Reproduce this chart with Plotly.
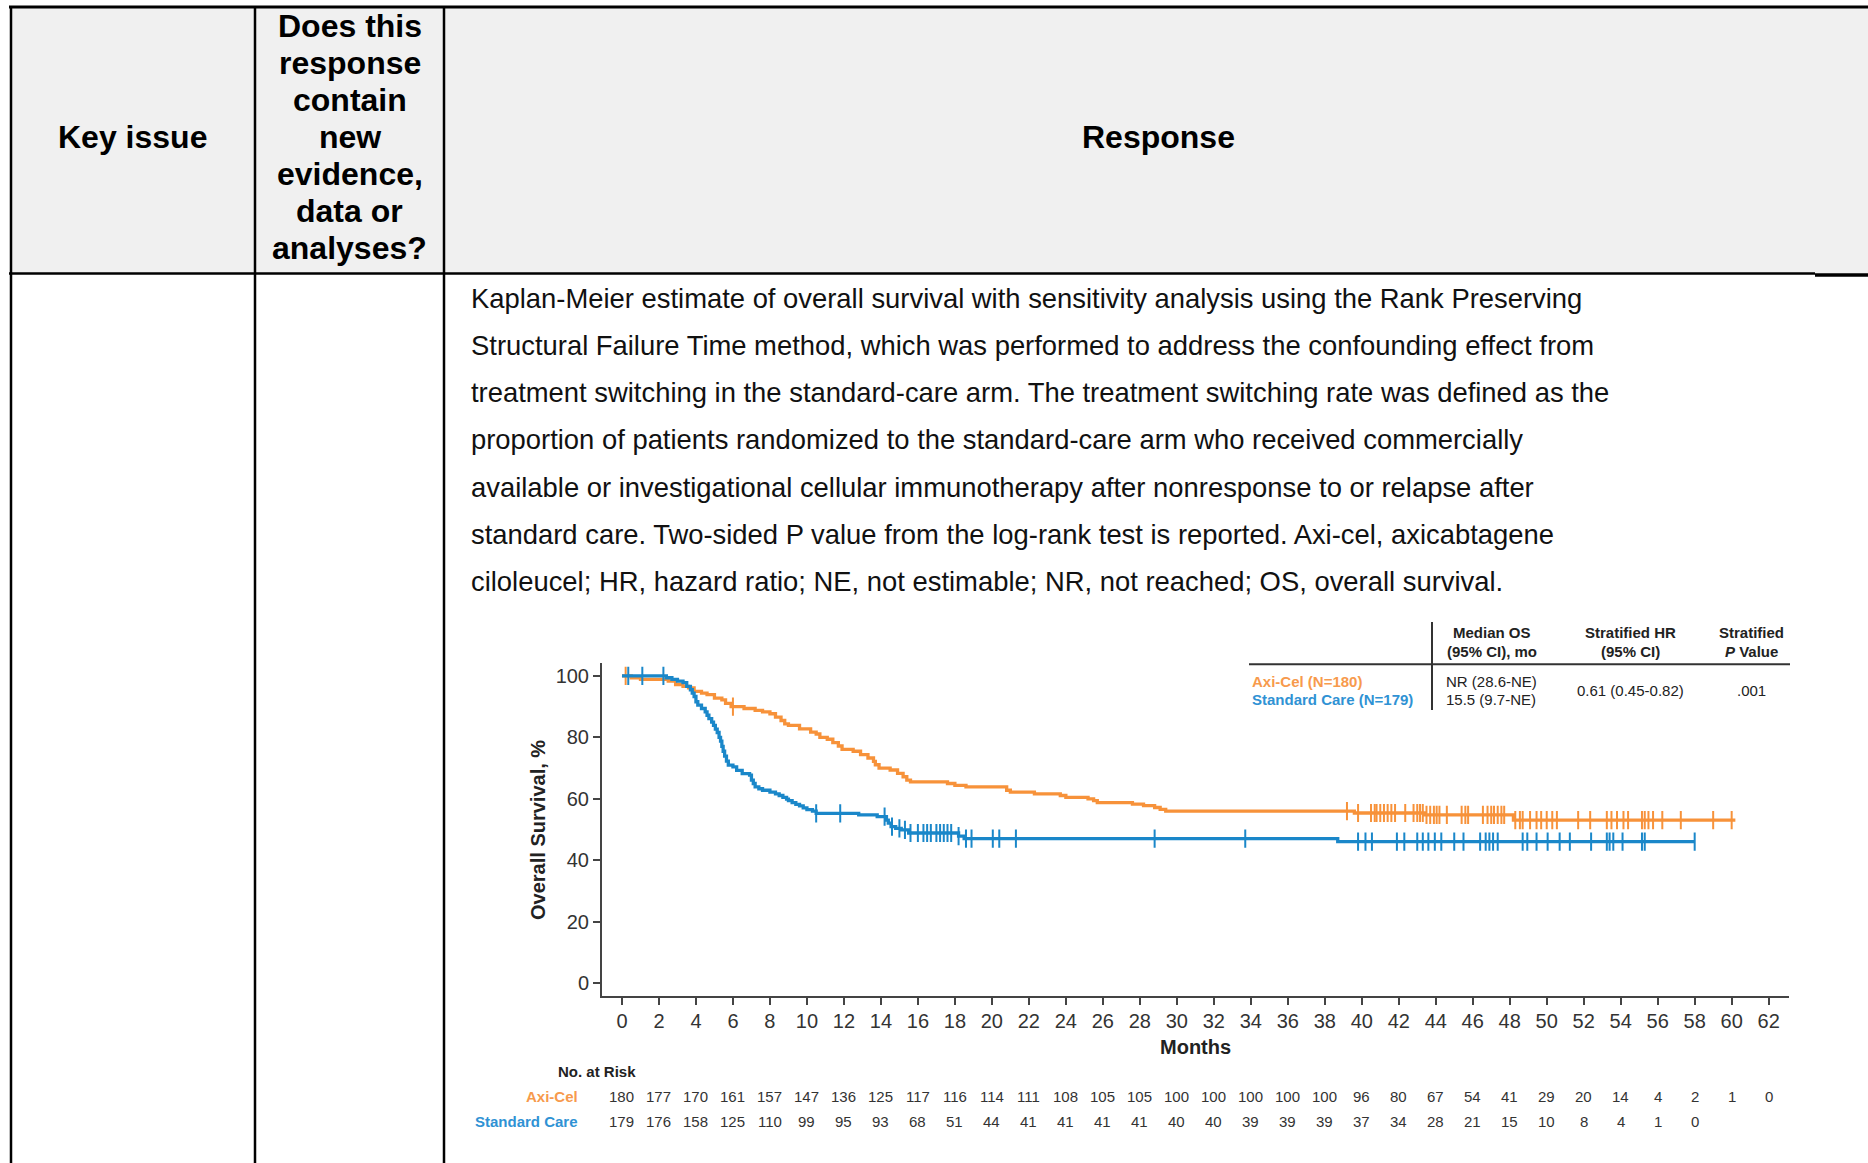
import plotly.graph_objects as go

W, H = 1868, 1163
FONT = "Liberation Sans, Arial, Helvetica, sans-serif"
ORANGE = "#F7923A"
BLUE = "#1A87C9"
ORANGE_TXT = "#F79A4C"
BLUE_TXT = "#2F92D4"

# ---------------- data ----------------
months_ticks = list(range(0, 63, 2))

axicel_t = [0, 0.5, 1.0, 2.5, 2.9, 3.3, 3.6, 3.9, 4.3, 4.6, 5.0, 5.4, 5.6, 5.9, 6.6, 7.2, 7.6, 8.0,
            8.3, 8.6, 8.8, 9.0, 9.6, 10.2, 10.5, 10.7, 11.1, 11.4, 11.7, 11.9, 12.5, 12.9, 13.3,
            13.6, 13.7, 13.9, 14.5, 14.9, 15.2, 15.4, 15.6, 17.6, 18.0, 18.6, 20.8, 21.0, 22.3,
            23.7, 24.0, 25.2, 25.5, 25.7, 27.6, 28.2, 28.8, 29.1, 29.4, 39.6, 43.4, 48.2]
axicel_s = [100, 99.4, 98.9, 98.3, 97.2, 96.6, 96.1, 95.0, 94.4, 93.9, 92.8, 92.2, 91.1, 90.0, 89.4,
            88.8, 88.3, 87.7, 86.6, 85.5, 84.4, 83.9, 82.8, 81.7, 81.1, 80.0, 79.4, 78.3, 77.2, 76.1,
            75.5, 74.4, 73.3, 72.2, 71.1, 70.0, 69.4, 68.3, 67.2, 66.1, 65.5, 65.0, 64.4, 63.9, 62.8,
            62.2, 61.6, 61.1, 60.5, 60.0, 59.4, 58.8, 58.3, 57.8, 57.2, 56.6, 56.0, 55.4, 54.8, 53.1]
axicel_end = 60.2
axicel_cens = [0.2, 6.0, 39.2, 39.8, 40.5, 40.7, 40.8, 41.0, 41.2, 41.4, 41.6, 41.8, 42.35, 42.8,
               43.0, 43.15, 43.3, 43.5, 43.7, 43.9, 44.05, 44.2, 44.6, 45.4, 45.6, 45.75, 46.55,
               46.8, 47.0, 47.15, 47.35, 47.55, 47.7, 48.3, 48.55, 48.7, 49.1, 49.45, 49.7, 50.0,
               50.3, 50.55, 51.7, 52.35, 53.25, 53.5, 53.8, 54.15, 54.4, 55.15, 55.3, 55.5, 55.75,
               56.25, 57.25, 59.0, 60.0]

sc_t = [0, 2.4, 2.7, 3.0, 3.3, 3.5, 3.7, 3.8, 3.9, 4.0, 4.1, 4.3, 4.5, 4.6, 4.7, 4.85, 4.95, 5.05,
        5.15, 5.25, 5.33, 5.4, 5.47, 5.55, 5.65, 5.75, 6.0, 6.2, 6.5, 6.9, 7.0, 7.1, 7.2, 7.4, 7.6,
        8.0, 8.3, 8.5, 8.7, 8.9, 9.0, 9.2, 9.4, 9.6, 9.8, 10.0, 10.3, 10.5, 12.8, 13.8, 14.3, 14.4,
        14.55, 14.8, 15.1, 15.5, 18.2, 18.5, 38.7]
sc_s = [100, 99.4, 98.9, 98.3, 97.8, 96.6, 95.5, 94.4, 93.3, 91.6, 90.5, 89.4, 88.3, 87.2, 86.1,
        85.0, 83.9, 82.7, 81.6, 80.0, 78.8, 77.1, 75.5, 73.9, 72.3, 71.0, 70.4, 69.3, 68.2, 67.7,
        66.1, 65.0, 63.9, 63.3, 62.8, 62.2, 61.6, 61.1, 60.5, 59.9, 59.4, 58.8, 58.2, 57.7, 57.1,
        56.5, 56.0, 55.3, 54.8, 54.2, 53.1, 52.1, 51.0, 50.4, 49.9, 48.9, 47.9, 47.1, 46.1]
sc_end = 58.0
sc_cens = [0.34, 1.1, 2.24, 10.5, 11.8, 14.2, 14.6, 15.0, 15.3, 15.6, 16.0, 16.3, 16.5, 16.7, 17.0,
           17.2, 17.4, 17.6, 17.8, 18.2, 18.6, 18.9, 20.05, 20.4, 21.3, 28.8, 33.7, 39.8, 40.2,
           40.55, 41.9, 42.3, 43.0, 43.3, 43.6, 43.95, 44.3, 45.0, 45.5, 46.4, 46.7, 46.9, 47.1,
           47.35, 48.7, 48.95, 49.45, 50.05, 50.7, 51.25, 52.4, 53.25, 53.4, 53.6, 54.1, 55.15,
           55.3, 58.0]

risk_axicel = [180, 177, 170, 161, 157, 147, 136, 125, 117, 116, 114, 111, 108, 105, 105, 100,
               100, 100, 100, 100, 96, 80, 67, 54, 41, 29, 20, 14, 4, 2, 1, 0]
risk_sc = [179, 176, 158, 125, 110, 99, 95, 93, 68, 51, 44, 41, 41, 41, 41, 40, 40, 39, 39, 39,
           37, 34, 28, 21, 15, 10, 8, 4, 1, 0]

header_col1 = "Key issue"
header_col2 = ["Does this", "response", "contain", "new", "evidence,", "data or", "analyses?"]
header_col3 = "Response"
body_lines = [
    "Kaplan-Meier estimate of overall survival with sensitivity analysis using the Rank Preserving",
    "Structural Failure Time method, which was performed to address the confounding effect from",
    "treatment switching in the standard-care arm. The treatment switching rate was defined as the",
    "proportion of patients randomized to the standard-care arm who received commercially",
    "available or investigational cellular immunotherapy after nonresponse to or relapse after",
    "standard care. Two-sided P value from the log-rank test is reported. Axi-cel, axicabtagene",
    "ciloleucel; HR, hazard ratio; NE, not estimable; NR, not reached; OS, overall survival.",
]


def px(x):
    return x / W


def py(y):
    return 1 - y / H


def surv_at(ts, ss, t):
    v = ss[0]
    for ti, si in zip(ts, ss):
        if ti <= t:
            v = si
    return v


fig = go.Figure()

for ts, ss, end, cens, col, name in [
    (axicel_t, axicel_s, axicel_end, axicel_cens, ORANGE, "Axi-Cel"),
    (sc_t, sc_s, sc_end, sc_cens, BLUE, "Standard Care"),
]:
    fig.add_trace(go.Scatter(x=ts + [end], y=ss + [ss[-1]], mode="lines", line_shape="hv",
                             line=dict(color=col, width=3.3), name=name, showlegend=False,
                             hoverinfo="skip"))
    fig.add_trace(go.Scatter(x=cens, y=[surv_at(ts, ss, c) for c in cens], mode="markers",
                             marker=dict(symbol="line-ns", size=13,
                                         line=dict(color=col, width=2)),
                             showlegend=False, hoverinfo="skip"))

ann = []
shapes = []


def text(x, y, s, size, color="#000", bold=False, xanchor="center", xref="paper", angle=0):
    ann.append(dict(x=px(x) if xref == "paper" else x, y=py(y), xref=xref, yref="paper",
                    text=f"<b>{s}</b>" if bold else s, showarrow=False, xanchor=xanchor,
                    yanchor="middle", textangle=angle,
                    font=dict(family=FONT, size=size, color=color)))


def line(x0, y0, x1, y1, w=2, color="#000"):
    shapes.append(dict(type="line", xref="paper", yref="paper", x0=px(x0), y0=py(y0),
                       x1=px(x1), y1=py(y1), line=dict(color=color, width=w)))


# table header background
shapes.append(dict(type="rect", xref="paper", yref="paper", x0=px(11), x1=px(W), y0=py(274),
                   y1=py(7), fillcolor="#F0F0F0", line=dict(width=0), layer="below"))
line(9, 7, W, 7, 3)
line(11, 7, 11, H, 2.5)
line(255, 7, 255, H, 2.5)
line(444, 7, 444, H, 2.5)
line(9, 273.5, 1815, 273.5, 2.5)
line(1815, 275, W, 275, 3.5)

text(132, 137, header_col1, 32, bold=True)
for i, s in enumerate(header_col2):
    text(349.5, 26.2 + 36.95 * i, s, 32, bold=True)
text(1158, 137, header_col3, 32, bold=True)

for i, s in enumerate(body_lines):
    text(469, 298.3 + 47.2 * i, s, 27.4, color="#111", xanchor="left")

# chart labels
text(538, 830, "Overall Survival, %", 20, color="#222", bold=True, angle=-90)
text(1195, 1047, "Months", 20, color="#222", bold=True)
text(556, 1071, "No. at Risk", 15, color="#222", bold=True, xanchor="left")
text(580, 1096, "Axi-Cel", 15, color=ORANGE_TXT, bold=True, xanchor="right")
text(580, 1121, "Standard Care", 15, color=BLUE_TXT, bold=True, xanchor="right")
for m, v in zip(months_ticks, risk_axicel):
    text(m, 1096, str(v), 15, color="#333", xref="x")
for m, v in zip(months_ticks, risk_sc):
    text(m, 1121, str(v), 15, color="#333", xref="x")

# inset summary table
line(1432, 622, 1432, 710, 2, "#333")
line(1249, 664.3, 1790, 664.3, 2, "#333")
text(1492.4, 632.7, "Median OS", 15, "#222", True)
text(1492.4, 651.7, "(95% CI), mo", 15, "#222", True)
text(1630.7, 632.7, "Stratified HR", 15, "#222", True)
text(1630.7, 651.7, "(95% CI)", 15, "#222", True)
text(1751.6, 632.7, "Stratified", 15, "#222", True)
text(1751.6, 651.7, "<i>P</i> Value", 15, "#222", True)
text(1250, 681.7, "Axi-Cel (N=180)", 15, ORANGE_TXT, True, "left")
text(1250, 699.3, "Standard Care (N=179)", 15, BLUE_TXT, True, "left")
text(1444.4, 681.7, "NR (28.6-NE)", 15, "#222", False, "left")
text(1444.4, 699.3, "15.5 (9.7-NE)", 15, "#222", False, "left")
text(1630.7, 690, "0.61 (0.45-0.82)", 15, "#222")
text(1751.6, 690, ".001", 15, "#222")

fig.update_layout(
    width=W, height=H, margin=dict(l=0, r=0, t=0, b=0, pad=0),
    paper_bgcolor="white", plot_bgcolor="white",
    annotations=ann, shapes=shapes, showlegend=False,
    xaxis=dict(domain=[px(602), px(1789)], range=[-1.08, 63.1], tickmode="array",
               tickvals=months_ticks, showline=True, linecolor="#444", linewidth=2,
               ticks="outside", ticklen=7, tickwidth=2, tickcolor="#444", showgrid=False,
               zeroline=False, ticklabelstandoff=-1,
               tickfont=dict(family=FONT, size=20, color="#333")),
    yaxis=dict(domain=[py(995.7), py(662.7)], range=[-4.03, 104.3], tickvals=[0, 20, 40, 60, 80, 100],
               showline=True, linecolor="#444", linewidth=2, ticks="outside", ticklen=7,
               tickwidth=2, tickcolor="#444", showgrid=False, zeroline=False,
               tickfont=dict(family=FONT, size=20, color="#333")),
)

fig.write_html("out.html", config={"displayModeBar": False},
               post_script="document.body.style.margin='0';")
